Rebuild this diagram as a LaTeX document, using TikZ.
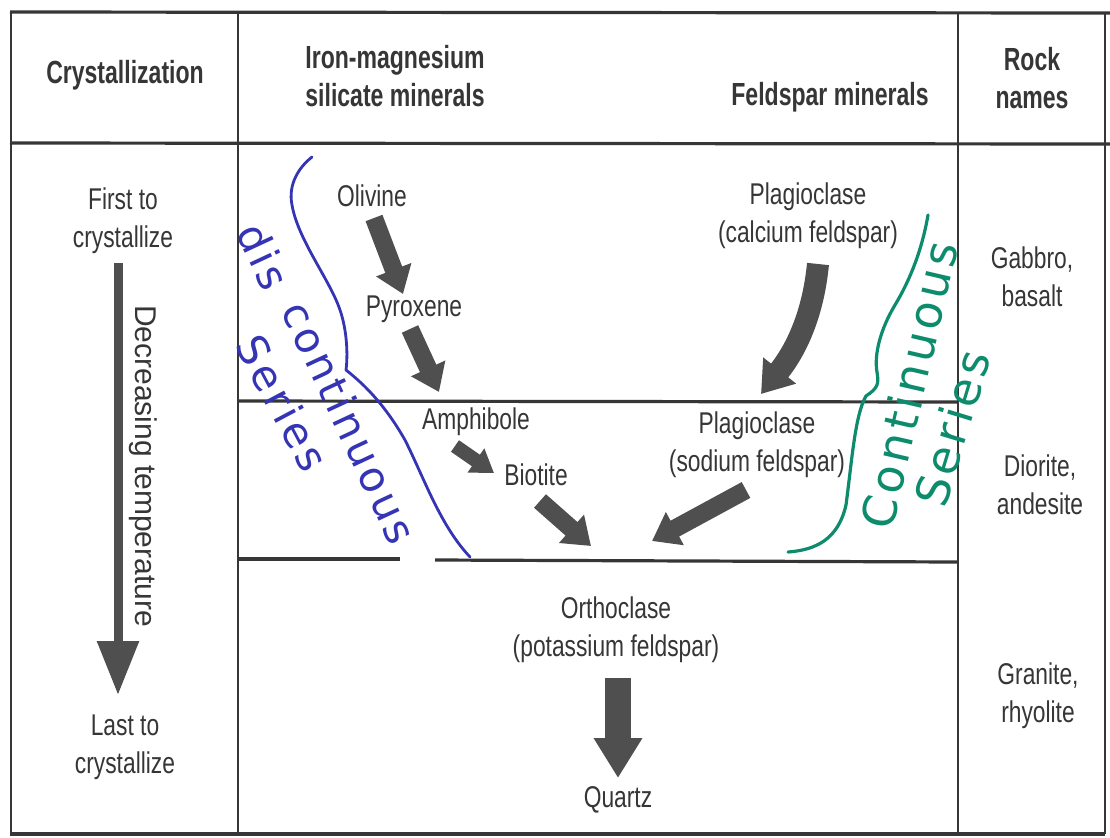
\documentclass[tikz,border=0pt]{standalone}
\usepackage{fontspec}
\setmainfont{Liberation Sans}[FakeStretch=0.76]
\newfontfamily\headfont{Liberation Sans Bold}[FakeStretch=0.72]
\newfontfamily\widefont{Liberation Sans}
\newfontfamily\handfont{DejaVu Sans}[LetterSpace=8]
\usetikzlibrary{arrows.meta}
\definecolor{ink}{HTML}{363636}
\definecolor{arrowgray}{HTML}{4F4F4F}
\definecolor{penblue}{HTML}{3434B4}
\definecolor{pengreen}{HTML}{0C8C6C}
\begin{document}
\begin{tikzpicture}[x=0.5pt,y=-0.5pt,
  hrule/.style={draw=ink,line width=1.6pt},
  vrule/.style={draw=ink,line width=1.1pt},
  head/.style={font=\headfont\fontsize{16}{19}\selectfont,text=ink,align=center,inner sep=0pt},
  lbl/.style={font=\fontsize{15}{19}\selectfont,text=ink,align=center,inner sep=0pt},
  fat/.style={draw=arrowgray,line width=9pt,-{Triangle[width=18pt,length=13pt]}},
  fatsmall/.style={draw=arrowgray,line width=7pt,-{Triangle[width=14pt,length=11pt]}},
  bluepen/.style={draw=penblue,line width=1.4pt,line cap=round,line join=round},
  greenpen/.style={draw=pengreen,line width=1.6pt,line cap=round,line join=round},
  bluehand/.style={text=penblue,font=\handfont\fontsize{21}{24}\selectfont,inner sep=0pt},
  greenhand/.style={text=pengreen,font=\handfont\fontsize{23}{26}\selectfont,inner sep=0pt}]
\useasboundingbox (0,0) rectangle (1110,837);
\fill[white] (0,0) rectangle (1110,837);

% table rules
\draw[hrule] (10,12) -- (1110,13);
\draw[hrule] (10,143) -- (1110,144);
\draw[hrule] (238,401) -- (958,402);
\draw[hrule] (238,559) -- (400,559);
\draw[hrule] (435,560) -- (958,562);
\draw[hrule] (10,834) -- (1105,834);
\draw[vrule] (11,12) -- (11,834);
\draw[vrule] (238,12) -- (238,834);
\draw[vrule] (958,12) -- (958,834);
\draw[vrule] (1105,12) -- (1105,834);

% headers
\node[head] (hcryst) at (125,75) {Crystallization};
\node[head,align=left,anchor=west] (hiron) at (305,76) {Iron-magnesium\\silicate minerals};
\node[head] (hfeld) at (830,97) {Feldspar minerals};
\node[head] (hrock) at (1032,78) {Rock\\names};

% crystallization column
\node[lbl] (first) at (123,221) {First to\\crystallize};
\node[lbl] (last) at (125,747) {Last to\\crystallize};
\coordinate (tstart) at (118,263);
\coordinate (tend) at (118,695);
\draw[draw=arrowgray,line width=4.5pt,-{Triangle[width=20pt,length=27pt]}] (tstart) -- (tend);
\node[lbl,font=\widefont\fontsize{15}{19}\selectfont,rotate=-90] (temp) at (143,466) {Decreasing temperature};

% minerals
\node[lbl] (olivine) at (372,196) {Olivine};
\node[lbl] (pyroxene) at (414,309) {Pyroxene};
\node[lbl] (amphibole) at (476,422) {Amphibole};
\node[lbl] (biotite) at (536,475) {Biotite};
\node[lbl] (plagca) at (808,216) {Plagioclase\\(calcium feldspar)};
\node[lbl] (plagna) at (757,445) {Plagioclase\\(sodium feldspar)};
\node[lbl] (ortho) at (616,630) {Orthoclase\\(potassium feldspar)};
\node[lbl] (quartz) at (618,800) {Quartz};

% rock names
\node[lbl] (gabbro) at (1032,277) {Gabbro,\\basalt};
\node[lbl] (diorite) at (1040,485) {Diorite,\\andesite};
\node[lbl] (granite) at (1038,696) {Granite,\\rhyolite};

% reaction arrows
\coordinate (a1s) at (374,218); \coordinate (a1e) at (403,294);
\coordinate (a2s) at (410,329); \coordinate (a2e) at (439,392);
\coordinate (a3s) at (455,446); \coordinate (a3e) at (494,473);
\coordinate (a4s) at (540,501); \coordinate (a4e) at (591,546);
\coordinate (a5s) at (746,490); \coordinate (a5e) at (652,541);
\coordinate (a6s) at (818,264); \coordinate (a6e) at (761,394);
\coordinate (a7s) at (618,678); \coordinate (a7e) at (618,778);
\draw[fat] (a1s) -- (a1e);
\draw[fat] (a2s) -- (a2e);
\draw[fatsmall] (a3s) -- (a3e);
\draw[fat] (a4s) -- (a4e);
\draw[fat] (a5s) -- (a5e);
\draw[draw=arrowgray,line width=11pt,-{Triangle[width=20pt,length=15pt]}] (a6s) .. controls (813,315) and (796,350) .. (a6e);
\draw[draw=arrowgray,line width=13pt,-{Triangle[width=23pt,length=20pt]}] (a7s) -- (a7e);

% handwritten blue annotation
\draw[bluepen] (312,157) .. controls (298,168) and (288,185) .. (292,205)
  .. controls (298,240) and (330,280) .. (340,310)
  .. controls (347,330) and (348,355) .. (346,370)
  .. controls (365,385) and (385,405) .. (405,440)
  .. controls (425,480) and (440,525) .. (470,557);
\node[bluehand,rotate=-65] (dis) at (264,256) {dis};
\node[bluehand,rotate=-65] (contin) at (350,422) {continuous};
\node[bluehand,rotate=-62] (bseries) at (283,403) {Series};

% handwritten green annotation
\draw[greenpen] (928,215) .. controls (922,250) and (910,280) .. (895,305)
  .. controls (880,330) and (874,355) .. (877,372)
  .. controls (879,384) and (878,388) .. (866,396)
  .. controls (855,415) and (852,460) .. (846,505)
  .. controls (838,540) and (815,550) .. (788,552);
\node[greenhand,rotate=77] (cont) at (909,385) {Continuous};
\node[greenhand,rotate=73] (gseries) at (952,428) {Series};
\end{tikzpicture}
\end{document}
